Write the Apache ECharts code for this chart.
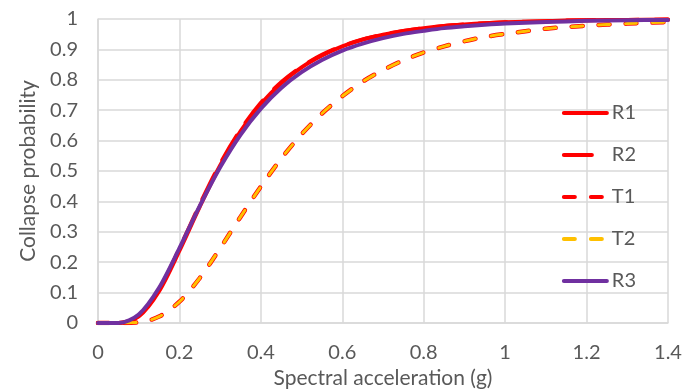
<!DOCTYPE html>
<html>
<head>
<meta charset="utf-8">
<script src="https://cdn.jsdelivr.net/npm/echarts@6/dist/echarts.min.js"></script>
<style>
  html, body { margin: 0; padding: 0; background: #fff; }
  #main { width: 683px; height: 391px; }
</style>
</head>
<body>
<div id="main"></div>
<script>
// spectral acceleration samples (g)
const sa = [0, 0.05, 0.1, 0.15, 0.2, 0.25, 0.3, 0.35, 0.4, 0.45, 0.5, 0.55, 0.6, 0.65, 0.7,
  0.75, 0.8, 0.85, 0.9, 0.95, 1.0, 1.1, 1.2, 1.3, 1.4];
// collapse probability
const r1 = [0, 0, 0.022, 0.105, 0.238, 0.383, 0.518, 0.630, 0.720, 0.789, 0.841, 0.880, 0.910,
  0.932, 0.948, 0.961, 0.970, 0.977, 0.982, 0.986, 0.989, 0.993, 0.996, 0.997, 0.998];
const r2 = [0, 0, 0.024, 0.110, 0.245, 0.390, 0.524, 0.635, 0.724, 0.792, 0.843, 0.882, 0.911,
  0.933, 0.949, 0.961, 0.970, 0.977, 0.982, 0.986, 0.989, 0.993, 0.996, 0.997, 0.998];
const t1 = [0, 0, 0.002, 0.021, 0.070, 0.148, 0.246, 0.349, 0.449, 0.541, 0.621, 0.689, 0.746,
  0.794, 0.832, 0.864, 0.890, 0.910, 0.927, 0.941, 0.951, 0.968, 0.978, 0.985, 0.990];
const t2 = [0, 0, 0.002, 0.021, 0.070, 0.148, 0.246, 0.349, 0.449, 0.541, 0.621, 0.689, 0.746,
  0.794, 0.832, 0.864, 0.890, 0.910, 0.927, 0.941, 0.951, 0.968, 0.978, 0.985, 0.990];
const r3 = [0, 0, 0.028, 0.116, 0.246, 0.385, 0.512, 0.619, 0.705, 0.773, 0.825, 0.865, 0.896,
  0.919, 0.937, 0.951, 0.961, 0.970, 0.976, 0.981, 0.985, 0.990, 0.994, 0.996, 0.997];

const pairs = ys => sa.map((x, i) => [x, ys[i]]);
const font = 'Lato';
const grey = '#595959';

const chart = echarts.init(document.getElementById('main'));

function line(name, ys, color, width, type) {
  return {
    name: name,
    type: 'line',
    data: pairs(ys),
    smooth: 0.3,
    showSymbol: false,
    symbol: 'none',
    lineStyle: { color: color, width: width, type: type, cap: 'round' },
    itemStyle: { color: color }
  };
}

chart.setOption({
  animation: false,
  grid: { left: 98, right: 15, top: 19, bottom: 68, outerBoundsMode: 'none' },
  legend: {
    orient: 'vertical',
    right: 42,
    top: 98,
    itemWidth: 43,
    itemHeight: 14,
    itemGap: 22,
    itemStyle: { opacity: 0 },
    lineStyle: { width: 4 },
    textStyle: { fontFamily: font, fontSize: 20, lineHeight: 20, color: grey },
    data: ['R1', 'R2', 'T1', 'T2', 'R3']
  },
  xAxis: {
    type: 'value',
    min: 0,
    max: 1.4,
    interval: 0.2,
    name: 'Spectral acceleration (g)',
    nameLocation: 'middle',
    nameGap: 45,
    nameTextStyle: { fontFamily: font, fontSize: 21, color: grey },
    axisLine: { show: true, lineStyle: { color: '#d9d9d9', width: 1.5 } },
    axisTick: { show: false },
    axisLabel: { fontFamily: font, fontSize: 20, color: grey, margin: 20 },
    splitLine: { lineStyle: { color: '#d9d9d9', width: 1.5 } }
  },
  yAxis: {
    type: 'value',
    min: 0,
    max: 1,
    interval: 0.1,
    name: 'Collapse probability',
    nameLocation: 'middle',
    nameGap: 59,
    nameTextStyle: { fontFamily: font, fontSize: 21, color: grey },
    axisLine: { show: true, lineStyle: { color: '#d9d9d9', width: 1.5 } },
    axisTick: { show: false },
    axisLabel: { fontFamily: font, fontSize: 20, color: grey, margin: 20 },
    splitLine: { lineStyle: { color: '#d9d9d9', width: 1.5 } }
  },
  series: [
    line('R1', r1, '#ff0000', 4, 'solid'),
    line('R2', r2, '#ff0000', 4, [28, 16]),
    line('T1', t1, '#ff0000', 4.5, [11, 16]),
    line('T2', t2, '#ffc000', 3, [11, 16]),
    line('R3', r3, '#7030a0', 4, 'solid')
  ]
});
</script>
</body>
</html>
